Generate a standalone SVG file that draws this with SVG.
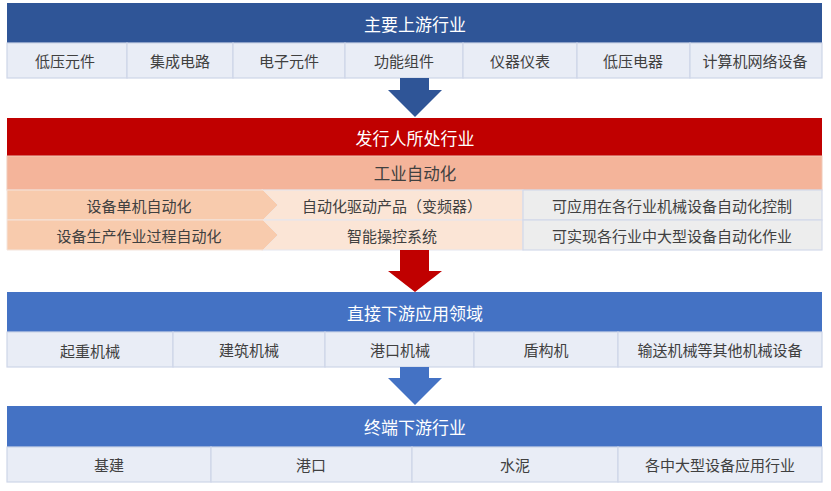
<svg xmlns="http://www.w3.org/2000/svg" width="831" height="491" viewBox="0 0 831 491">
<style>
  text { font-family: "Noto Sans CJK SC", "Noto Sans", sans-serif; text-anchor: middle; dominant-baseline: central; }
  .hd { fill: #ffffff; font-size: 17px; }
  .ct { fill: #404040; font-size: 15px; }
  .cell { fill: #E9EDF6; stroke: #CED6E8; stroke-width: 1.2; }
  .c1 { fill: #F8CBAD; stroke: #F3E4DC; stroke-width: 1; }
  .c2 { fill: #FBE5D6; stroke: #E3E6F0; stroke-width: 1; }
  .c3 { fill: #EDEDED; stroke: #D3D9EA; stroke-width: 1.2; }
</style>
<rect width="831" height="491" fill="#ffffff"/>

<g id="upstream">
  <rect x="7" y="3" width="815" height="40" fill="#2F5597"/>
  <text class="hd" x="415" y="23">主要上游行业</text>
  <rect class="cell" x="7" y="43" width="120" height="35"/>
  <rect class="cell" x="127" y="43" width="106" height="35"/>
  <rect class="cell" x="233" y="43" width="112" height="35"/>
  <rect class="cell" x="345" y="43" width="118" height="35"/>
  <rect class="cell" x="463" y="43" width="114" height="35"/>
  <rect class="cell" x="577" y="43" width="113" height="35"/>
  <rect class="cell" x="690" y="43" width="132" height="35"/>
  <text class="ct" x="65" y="60.5">低压元件</text>
  <text class="ct" x="180" y="60.5">集成电路</text>
  <text class="ct" x="289" y="60.5">电子元件</text>
  <text class="ct" x="404" y="60.5">功能组件</text>
  <text class="ct" x="520" y="60.5">仪器仪表</text>
  <text class="ct" x="633" y="60.5">低压电器</text>
  <text class="ct" x="755" y="60.5">计算机网络设备</text>
</g>

<g id="issuer">
  <rect x="7" y="118" width="815" height="38" fill="#C00000"/>
  <text class="hd" x="415" y="137">发行人所处行业</text>
  <rect x="7" y="156" width="815" height="34" fill="#F4B49A" stroke="#F0C9B8" stroke-width="1"/>
  <text class="ct" x="415" y="173" style="font-size:16.5px">工业自动化</text>
  <rect class="c2" x="262" y="190" width="261" height="30"/>
  <rect class="c2" x="262" y="220" width="261" height="30"/>
  <polygon class="c1" points="7,190 263,190 278,205 263,220 7,220"/>
  <polygon class="c1" points="7,220 263,220 278,235 263,250 7,250"/>
  <rect class="c3" x="523" y="190" width="299" height="30"/>
  <rect class="c3" x="523" y="220" width="299" height="30"/>
  <text class="ct" x="139" y="205">设备单机自动化</text>
  <text class="ct" x="139" y="235">设备生产作业过程自动化</text>
  <text class="ct" x="392" y="205">自动化驱动产品（变频器）</text>
  <text class="ct" x="392" y="235">智能操控系统</text>
  <text class="ct" x="672" y="205">可应用在各行业机械设备自动化控制</text>
  <text class="ct" x="672" y="235">可实现各行业中大型设备自动化作业</text>
</g>

<g id="direct-downstream">
  <rect x="7" y="292" width="815" height="40" fill="#4472C4"/>
  <text class="hd" x="415" y="312">直接下游应用领域</text>
  <rect class="cell" x="7" y="332" width="166" height="35"/>
  <rect class="cell" x="173" y="332" width="152" height="35"/>
  <rect class="cell" x="325" y="332" width="149" height="35"/>
  <rect class="cell" x="474" y="332" width="144" height="35"/>
  <rect class="cell" x="618" y="332" width="204" height="35"/>
  <text class="ct" x="90" y="350">起重机械</text>
  <text class="ct" x="249" y="349.5">建筑机械</text>
  <text class="ct" x="400" y="349.5">港口机械</text>
  <text class="ct" x="546" y="349.5">盾构机</text>
  <text class="ct" x="720" y="349.5">输送机械等其他机械设备</text>
</g>

<g id="end-downstream">
  <rect x="7" y="406" width="815" height="41" fill="#4472C4"/>
  <text class="hd" x="415" y="426">终端下游行业</text>
  <rect class="cell" x="7" y="447" width="204" height="35"/>
  <rect class="cell" x="211" y="447" width="201" height="35"/>
  <rect class="cell" x="412" y="447" width="206" height="35"/>
  <rect class="cell" x="618" y="447" width="204" height="35"/>
  <text class="ct" x="109" y="464.5">基建</text>
  <text class="ct" x="311" y="464.5">港口</text>
  <text class="ct" x="515" y="464.5">水泥</text>
  <text class="ct" x="720" y="464.5">各中大型设备应用行业</text>
</g>

<g id="connectors">
  <polygon fill="#2F5597" points="400,78 429,78 429,90 442,90 415,117 388,90 400,90"/>
  <polygon fill="#C00000" points="400,250 429,250 429,271 442,271 415,292 388,271 400,271"/>
  <polygon fill="#4472C4" points="400,367 429,367 429,378 442,378 415,405 388,378 400,378"/>
</g>
</svg>
